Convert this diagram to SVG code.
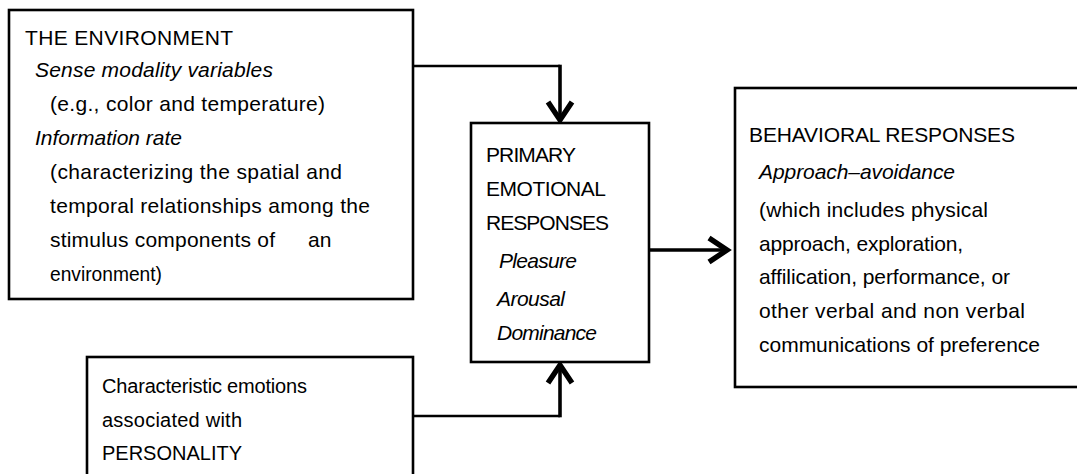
<svg xmlns="http://www.w3.org/2000/svg" width="1077" height="474" viewBox="0 0 1077 474">
<defs>
<style>
.box{fill:#fff;stroke:#000;stroke-width:2.6}
.t{font-family:"Liberation Sans",Arial,sans-serif;font-size:21px;fill:#000}
.i{font-style:italic}
.s{font-size:20px}
.c{fill:none;stroke:#000;stroke-width:2.6}
.ca{fill:none;stroke:#000;stroke-width:3.6}
</style>
<marker id="ah" markerUnits="userSpaceOnUse" markerWidth="30" markerHeight="30" viewBox="-16 -10 20 20" refX="0" refY="0" orient="auto">
<path d="M-12 -8 L0 0 L-12 8" fill="none" stroke="#000" stroke-width="3.6" stroke-linejoin="miter"/>
</marker>
</defs>
<rect width="1077" height="474" fill="#fff"/>
<g id="connectors">
<path class="c" d="M413 66 H560"/>
<path class="ca" d="M560 64.7 V120" marker-end="url(#ah)"/>
<path class="c" d="M413 416 H560"/>
<path class="ca" d="M560 417.3 V365" marker-end="url(#ah)"/>
<path class="ca" d="M649 250 H727" marker-end="url(#ah)"/>
</g>
<g id="environment">
<rect class="box" x="9" y="10" width="404" height="289"/>
<text class="t" x="25" y="45" textLength="208">THE ENVIRONMENT</text>
<text class="t i" x="35" y="77" textLength="238">Sense modality variables</text>
<text class="t" x="50" y="111" textLength="275">(e.g., color and temperature)</text>
<text class="t i" x="35" y="145" textLength="147">Information rate</text>
<text class="t" x="50" y="179" textLength="292">(characterizing the spatial and</text>
<text class="t" x="50" y="213" textLength="320">temporal relationships among the</text>
<text class="t" x="50" y="247" textLength="225">stimulus components of</text>
<text class="t" x="308" y="247">an</text>
<text class="t" x="50" y="281" textLength="112" lengthAdjust="spacingAndGlyphs">environment)</text>
</g>
<g id="primary">
<rect class="box" x="471" y="123" width="178" height="239"/>
<text class="t" x="486" y="162" textLength="90">PRIMARY</text>
<text class="t" x="486" y="196" textLength="120">EMOTIONAL</text>
<text class="t" x="486" y="230" textLength="123">RESPONSES</text>
<text class="t i" x="499" y="268" textLength="78">Pleasure</text>
<text class="t i" x="497" y="306" textLength="68">Arousal</text>
<text class="t i" x="497" y="340" textLength="100">Dominance</text>
</g>
<g id="behavioral">
<rect class="box" x="735" y="88" width="400" height="299"/>
<text class="t" x="749" y="142" textLength="266">BEHAVIORAL RESPONSES</text>
<text class="t i" x="759" y="179" textLength="196">Approach–avoidance</text>
<text class="t" x="759" y="217" textLength="229">(which includes physical</text>
<text class="t" x="759" y="251" textLength="204">approach, exploration,</text>
<text class="t" x="759" y="284" textLength="251">affilication, performance, or</text>
<text class="t" x="759" y="318" textLength="266">other verbal and non verbal</text>
<text class="t" x="759" y="352" textLength="281">communications of preference</text>
</g>
<g id="personality">
<rect class="box" x="87" y="357" width="326" height="140"/>
<text class="t s" x="102" y="393" textLength="205">Characteristic emotions</text>
<text class="t s" x="102" y="427" textLength="140">associated with</text>
<text class="t s" x="102" y="460" textLength="140">PERSONALITY</text>
</g>
</svg>
